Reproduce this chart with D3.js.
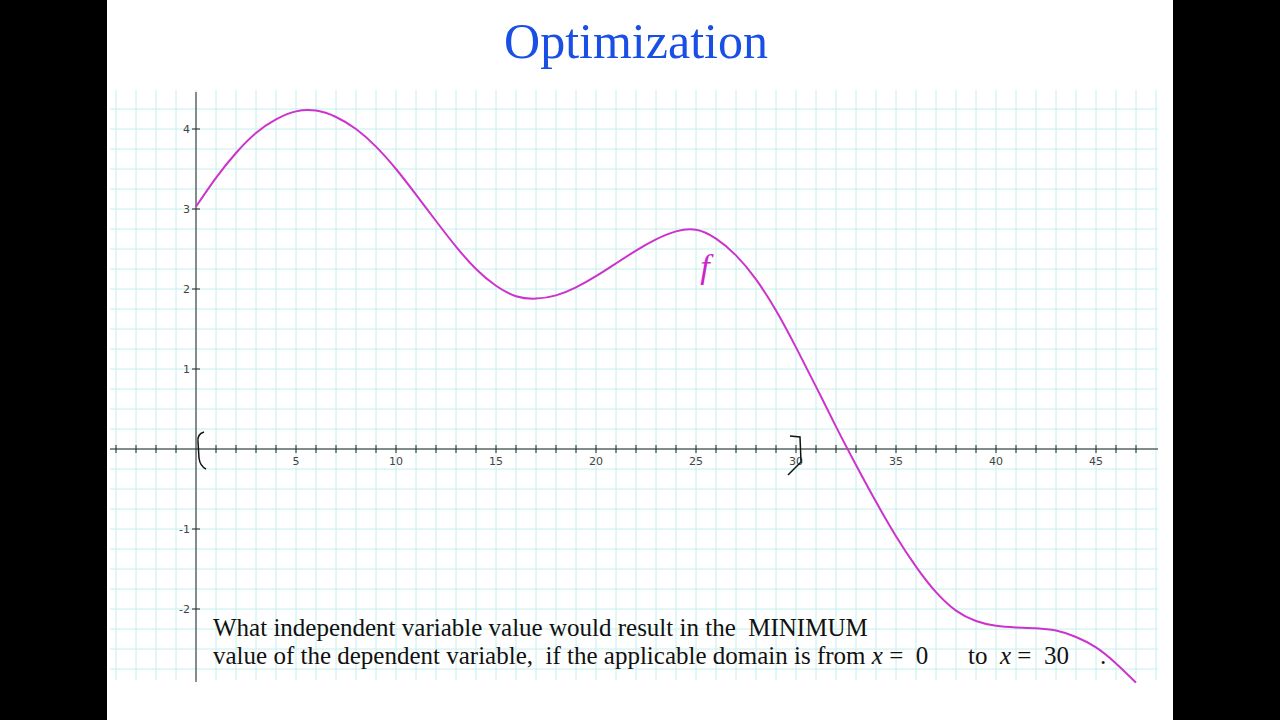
<!DOCTYPE html><html><head><meta charset="utf-8"><script src="https://d3js.org/d3.v7.min.js"></script>
<style>body{margin:0;background:#000}text{white-space:pre}</style></head><body><script>
const xTickLabels=[5,10,15,20,25,30,35,40,45];
const yTickLabels=[-2,-1,1,2,3,4];
const curveX=[0,1,2,3,4,5,6,7,8,9,10,11,12,13,14,15,16,17,18,19,20,21,22,23,24,25,26,27,28,29,30,31,32,33,34,35,36,37,38,39,40,41,42,43,44,45,46,47];
const curveY=[3.03,3.39,3.7,3.95,4.12,4.22,4.23,4.15,4.0,3.78,3.5,3.18,2.85,2.53,2.25,2.04,1.91,1.88,1.92,2.02,2.16,2.32,2.48,2.62,2.72,2.74,2.63,2.42,2.12,1.73,1.27,0.78,0.28,-0.2,-0.66,-1.09,-1.47,-1.79,-2.02,-2.15,-2.21,-2.23,-2.24,-2.27,-2.35,-2.48,-2.68,-2.92];
const svg=d3.select("body").append("svg").attr("width",1280).attr("height",720);
svg.append("rect").attr("x",107).attr("width",1066).attr("height",720).attr("fill","#fff");
const x=d3.scaleLinear().domain([0,5]).range([196,296]);
const y=d3.scaleLinear().domain([0,1]).range([449,369]);
const g=svg.append("g");
d3.range(-4,49).forEach(v=>g.append("line").attr("x1",x(v)).attr("x2",x(v)).attr("y1",90).attr("y2",680).attr("stroke","#c4f0ee").attr("stroke-width",1));
d3.range(-11,18).forEach(k=>{const v=k*0.25;g.append("line").attr("x1",110).attr("x2",1158).attr("y1",y(v)).attr("y2",y(v)).attr("stroke","#c4f0ee").attr("stroke-width",1);});
svg.append("line").attr("x1",110).attr("x2",1158).attr("y1",y(0)).attr("y2",y(0)).attr("stroke","#222");
svg.append("line").attr("x1",x(0)).attr("x2",x(0)).attr("y1",92).attr("y2",682).attr("stroke","#222");
d3.range(-4,48).filter(v=>v!==0).forEach(v=>svg.append("line").attr("x1",x(v)).attr("x2",x(v)).attr("y1",y(0)-4).attr("y2",y(0)+4).attr("stroke","#222"));
xTickLabels.forEach(v=>svg.append("text").attr("x",x(v)).attr("y",y(0)+16).attr("text-anchor","middle").attr("font-family","DejaVu Sans").attr("font-size",11).attr("fill","#444").text(v));
yTickLabels.forEach(v=>{svg.append("line").attr("x1",x(0)-4).attr("x2",x(0)+4).attr("y1",y(v)).attr("y2",y(v)).attr("stroke","#222");
svg.append("text").attr("x",x(0)-6).attr("y",y(v)+4).attr("text-anchor","end").attr("font-family","DejaVu Sans").attr("font-size",11).attr("fill","#444").text(v);});
const line=d3.line().x((d,i)=>x(curveX[i])).y(d=>y(d)).curve(d3.curveNatural);
svg.append("path").attr("d",line(curveY)).attr("fill","none").attr("stroke","#cc33cc").attr("stroke-width",2);
svg.append("text").attr("x",705).attr("y",278).attr("text-anchor","middle").attr("font-family","Liberation Serif").attr("font-style","italic").attr("font-size",34).attr("fill","#cc22cc").text("f");
svg.append("path").attr("d",`M204,432 Q197,434 198,442 L199,458 Q200,466 206,469`).attr("fill","none").attr("stroke","#111").attr("stroke-width",1.5);
svg.append("path").attr("d",`M790,436 L800,437 L801,462 L788,475`).attr("fill","none").attr("stroke","#111").attr("stroke-width",1.5);
svg.append("text").attr("x",636).attr("y",58).attr("text-anchor","middle").attr("font-family","Liberation Serif").attr("font-size",50).attr("fill","#1a4fe6").text("Optimization");
const t=svg.append("g").attr("font-family","Liberation Serif").attr("font-size",25).attr("fill","#111");
t.append("text").attr("x",213).attr("y",636).text("What independent variable value would result in the  MINIMUM");
const l2=t.append("text").attr("x",213).attr("y",664);
l2.append("tspan").text("value of the dependent variable,  if the applicable domain is from ");
l2.append("tspan").attr("font-style","italic").text("x");
l2.append("tspan").text(" =  0");
const l3=t.append("text").attr("x",968).attr("y",664);
l3.append("tspan").text("to  ");l3.append("tspan").attr("font-style","italic").text("x");l3.append("tspan").text(" =  30");
t.append("text").attr("x",1100).attr("y",664).text(".");
</script></body></html>
